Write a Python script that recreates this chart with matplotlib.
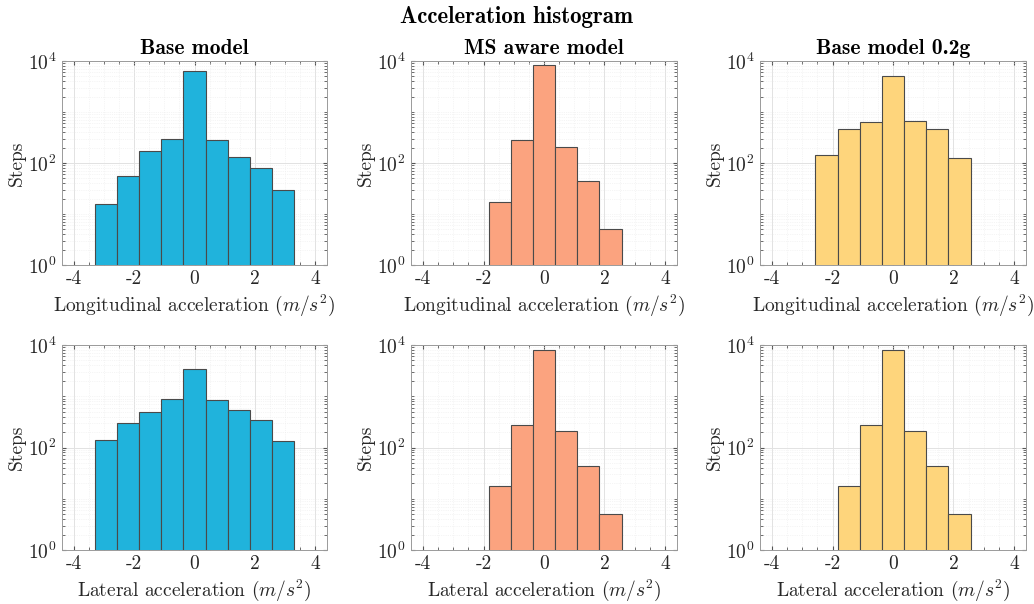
import numpy as np
import matplotlib
matplotlib.use('Agg')
import matplotlib.pyplot as plt
from matplotlib.ticker import LogLocator, LogFormatterMathtext, MultipleLocator, NullFormatter

plt.rcParams['font.family'] = ['cmr10', 'DejaVu Serif']
plt.rcParams['mathtext.fontset'] = 'cm'
plt.rcParams['axes.unicode_minus'] = False
plt.rcParams['axes.formatter.use_mathtext'] = False

# histogram bins (m/s^2) and step counts
edges = [-3.3, -2.567, -1.833, -1.1, -0.367, 0.367, 1.1, 1.833, 2.567, 3.3]

base_long = [15.5, 56, 172, 296, 6340, 279, 131, 79, 29.6]
ms_long = [0, 0, 17.4, 280, 8470, 210, 44, 5.0, 0]
g02_long = [0, 142, 459, 649, 5160, 669, 466, 128, 0]

base_lat = [138, 297, 500, 870, 3350, 845, 531, 339, 134]
ms_lat = [0, 0, 17.7, 275, 7980, 210, 44, 5.0, 0]
g02_lat = [0, 0, 17.7, 275, 7980, 210, 44, 5.0, 0]

titles = ['Base model', 'MS aware model', 'Base model 0.2g']
xlabels = [r'Longitudinal acceleration $(m/s^2)$', r'Lateral acceleration $(m/s^2)$']
colors = ['#20b3dc', '#fba37f', '#fed57c']

data = [[base_long, ms_long, g02_long],
        [base_lat, ms_lat, g02_lat]]

W, H = 1034, 604
fig = plt.figure(figsize=(W / 100, H / 100), dpi=100)

col_px = [(62, 327), (411, 677), (760, 1026)]
row_px = [(61, 265), (345, 550)]

centers = 0.5 * (np.array(edges[:-1]) + np.array(edges[1:]))

for r in range(2):
    for c in range(3):
        x0, x1 = col_px[c]
        y0, y1 = row_px[r]
        ax = fig.add_axes([x0 / W, 1 - y1 / H, (x1 - x0) / W, (y1 - y0) / H])
        ax.hist(centers, bins=edges, weights=data[r][c], log=True,
                facecolor=colors[c], edgecolor='#4a4a4a', linewidth=0.8, zorder=3)
        ax.set_yscale('log')
        ax.set_ylim(1, 1e4)
        ax.set_xlim(-4.4, 4.4)
        ax.xaxis.set_major_locator(MultipleLocator(2))
        ax.xaxis.set_minor_locator(MultipleLocator(0.5))
        ax.yaxis.set_major_locator(LogLocator(base=100))
        ax.yaxis.set_major_formatter(LogFormatterMathtext())
        ax.yaxis.set_minor_locator(LogLocator(base=10, subs=np.arange(1, 10), numticks=20))
        ax.yaxis.set_minor_formatter(NullFormatter())
        ax.grid(True, which='major', color='#e2e2e2', linewidth=0.7, zorder=0)
        ax.grid(True, which='minor', color='#ececec', linewidth=0.5, linestyle=':', zorder=0)
        ax.set_axisbelow(True)
        ax.tick_params(which='both', direction='in', top=True, right=True,
                       colors='#555555', labelcolor='#262626', labelsize=14)
        ax.tick_params(which='minor', length=2)
        ax.tick_params(which='major', length=3, pad=4)
        for s in ax.spines.values():
            s.set_color('#9a9a9a')
            s.set_linewidth(0.7)
        ax.set_xlabel(xlabels[r], fontsize=14, color='#262626', labelpad=3)
        ax.set_ylabel('Steps', fontsize=14, color='#262626', labelpad=1)
        if r == 0:
            ax.set_title(titles[c], fontsize=15.5, fontfamily='cmb10', pad=5)

fig.suptitle('Acceleration histogram', fontsize=16.5, fontfamily='cmb10', y=0.99)

fig.savefig('out.png', dpi=100)
